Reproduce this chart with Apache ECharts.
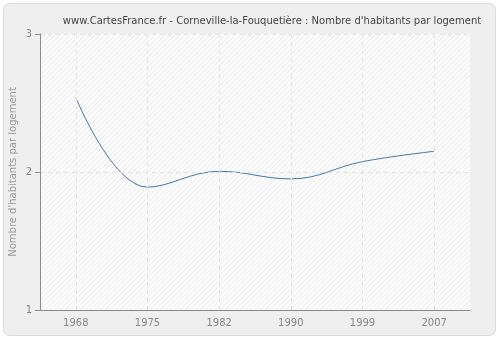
<!DOCTYPE html>
<html><head><meta charset="utf-8">
<script src="https://cdn.jsdelivr.net/npm/echarts@6/dist/echarts.min.js"></script>
<style>html,body{margin:0;padding:0;background:#fff}#c{width:500px;height:340px}</style>
</head><body><div id="c"></div>
<script>
var titleText = "www.CartesFrance.fr - Corneville-la-Fouquetière : Nombre d'habitants par logement";
var yAxisName = "Nombre d'habitants par logement";
var years = ["1968","1975","1982","1990","1999","2007"];
var values = [2.54, 1.89, 2.005, 1.95, 2.075, 2.15];
var yTicks = [1, 2, 3];

function hatch(line, bg){
  var n = 5;
  var c = document.createElement('canvas'); c.width = n; c.height = n;
  var g = c.getContext('2d');
  g.fillStyle = bg; g.fillRect(0,0,n,n);
  g.fillStyle = line;
  for (var i = 0; i < n; i++) g.fillRect(i, n-1-i, 1, 1);
  return c;
}
var chart = echarts.init(document.getElementById('c'));
var font = "'DejaVu Sans', Verdana, sans-serif";
var axisCol = '#8c8c8c';
chart.setOption({
  backgroundColor: '#fff',
  animation: false,
  graphic: [{type:'rect', shape:{x:3.5,y:3.5,width:492,height:332,r:6}, style:{fill:'#efefef', stroke:'#dcdcdc', lineWidth:1}, z:-10}],
  title: {text: titleText, left: 267, top: 11, textAlign: 'center',
    textStyle: {fontFamily: font, fontSize: 10, fontWeight: 'normal', color: '#444'}},
  grid: {left: 40, right: 30, top: 34, bottom: 30, outerBoundsMode: 'none', containLabel: false,
    show: false},
  xAxis: {type: 'category', data: years, boundaryGap: true, z: 10,
    axisLine: {lineStyle: {color: axisCol}},
    axisTick: {alignWithLabel: true, length: 5, lineStyle: {color: axisCol}},
    axisLabel: {fontFamily: font, fontSize: 10, color: '#888', margin: 8},
    splitLine: {show: false}},
  yAxis: {type: 'value', min: yTicks[0], max: yTicks[yTicks.length-1], interval: 1, z: 10,
    name: yAxisName, nameLocation: 'middle', nameGap: 22, nameMoveOverlap: false,
    nameTextStyle: {fontFamily: font, fontSize: 10, color: '#999'},
    axisLine: {show: true, onZero: false, lineStyle: {color: axisCol, width: 1}},
    axisTick: {show: true, length: 5, lineStyle: {color: axisCol}},
    axisLabel: {fontFamily: font, fontSize: 10, color: '#888', margin: 8},
    splitLine: {show: true, lineStyle: {color: '#e2e2e2', type: [4,4]}}},
  series: [{type: 'line', data: values, smooth: 0.4, symbol: 'none', z: 1,
    lineStyle: {color: '#4a74aa', width: 1},
    markLine: {silent: true, symbol: 'none', label: {show: false},
      lineStyle: {color: '#e2e2e2', type: [4,4], width: 1},
      data: years.map(function(y){ return {xAxis: y}; })},
    markArea: {silent: true, z: 0, data: [
      [{yAxis: 2, itemStyle: {color: {image: hatch('#e5e5e5', '#ffffff'), repeat: 'repeat'}}}, {yAxis: 3}],
      [{yAxis: 1, itemStyle: {color: {image: hatch('#efefef', '#fafafa'), repeat: 'repeat'}}}, {yAxis: 2}]
    ]}}]
});
</script></body></html>
